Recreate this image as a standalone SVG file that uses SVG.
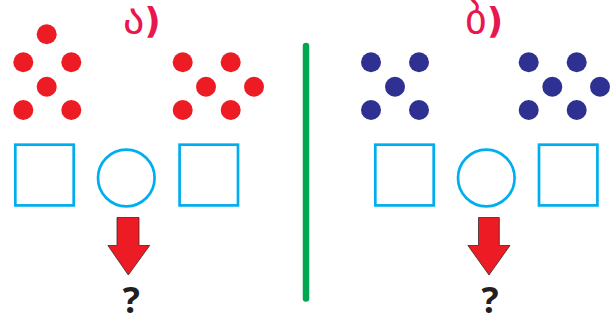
<svg xmlns="http://www.w3.org/2000/svg" width="612" height="320" viewBox="0 0 612 320">
<style>
.red{fill:#ED1C24}
.blue{fill:#2E3192}
.box{fill:none;stroke:#00AEEF;stroke-width:2.7}
.arrow{fill:#ED1C24;stroke:#3a2a2a;stroke-width:0.8;stroke-linejoin:miter}
.lbl{font-family:"DejaVu Sans",sans-serif;font-size:36px;font-weight:bold;fill:#E8174F}
.g{font-size:42px;font-weight:normal}
.q{font-family:"Open Sans","Liberation Sans",sans-serif;font-size:36px;font-weight:bold;fill:#231F20;text-anchor:middle}
</style>
<defs>
<circle id="d" r="10"/>
</defs>
<rect width="612" height="320" fill="#fff"/>
<g id="label-a"><text class="lbl" x="123" y="33"><tspan class="g">ა</tspan>)</text></g>
<g id="label-b"><text class="lbl" x="465" y="33"><tspan class="g">ბ</tspan>)</text></g>
<g id="dots-a1" class="red">
<use href="#d" x="46.7" y="34.3"/><use href="#d" x="23.3" y="62.3"/><use href="#d" x="71.3" y="62.3"/>
<use href="#d" x="46.7" y="86.7"/><use href="#d" x="23.3" y="110"/><use href="#d" x="71.3" y="110"/>
</g>
<g id="dots-a2" class="red">
<use href="#d" x="182.7" y="62.3"/><use href="#d" x="230.7" y="62.3"/><use href="#d" x="206" y="86.7"/>
<use href="#d" x="254" y="86.7"/><use href="#d" x="182.7" y="110"/><use href="#d" x="230.7" y="110"/>
</g>
<g id="dots-b1" class="blue">
<use href="#d" x="371" y="62.3"/><use href="#d" x="419" y="62.3"/><use href="#d" x="395" y="86.7"/>
<use href="#d" x="371" y="110"/><use href="#d" x="419" y="110"/>
</g>
<g id="dots-b2" class="blue">
<use href="#d" x="528.7" y="62.3"/><use href="#d" x="576.7" y="62.3"/><use href="#d" x="552.3" y="86.7"/>
<use href="#d" x="600" y="86.7"/><use href="#d" x="528.7" y="110"/><use href="#d" x="576.7" y="110"/>
</g>
<g id="boxes-a">
<rect class="box" x="15.3" y="144.7" width="58.4" height="60.7"/>
<circle class="box" cx="126.3" cy="178" r="28.3"/>
<rect class="box" x="179.6" y="144.7" width="58.4" height="60.7"/>
</g>
<g id="boxes-b">
<rect class="box" x="375.3" y="144.7" width="58.4" height="60.7"/>
<circle class="box" cx="486.3" cy="178" r="28.3"/>
<rect class="box" x="539" y="144.7" width="58.4" height="60.7"/>
</g>
<g id="divider">
<line x1="306" y1="46" x2="306" y2="298.5" stroke="#00A650" stroke-width="6.5" stroke-linecap="round"/>
</g>
<g id="arrow-a"><path class="arrow" d="M117,217.5 H139 V245.5 H149.7 L128.3,275 L107.9,245.5 H117 Z"/></g>
<g id="arrow-b"><path class="arrow" d="M478.5,217.5 H499.3 V245.5 H510 L489,275 L467.9,245.5 H478.5 Z"/></g>
<g id="q-a"><text class="q" x="131.3" y="313">?</text></g>
<g id="q-b"><text class="q" x="490" y="313">?</text></g>
</svg>
